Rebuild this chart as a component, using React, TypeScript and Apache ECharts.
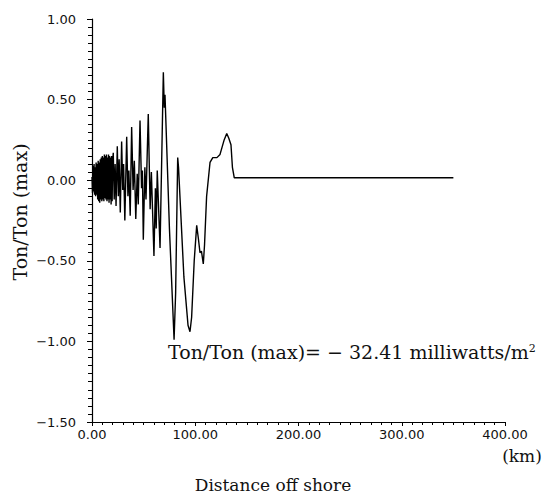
import React, { useEffect, useRef } from "react";
import * as echarts from "echarts";

// Distance off shore (km) and normalised Ton/Ton(max)
const distanceKm: number[] = [
  0, 0.5, 1, 1.5, 2, 2.5, 3, 3.5, 4, 4.5, 5, 5.5, 6, 6.5, 7, 7.5, 8, 8.5, 9, 9.5,
  10, 10.5, 11, 11.5, 12, 12.5, 13, 13.5, 14, 14.5, 15, 15.5, 16, 16.5, 17, 17.5, 18, 18.5, 19, 19.5,
  20, 20.6, 21.5, 22.4, 23.3, 24.5, 25.5, 26.3, 27.4, 28.7, 29.8, 30.6, 31.8, 33.6, 34.8, 35.7, 37,
  38.4, 39.8, 41, 42.4, 43.8, 44.8, 46.5, 48, 48.8, 49.7, 51.2, 52.3, 54.5, 56.3, 57.5, 60, 61.4, 62.2, 63.2,
  65.9, 69.1, 70.0, 70.7, 75, 79.5, 81, 83.0, 83.8, 89, 93, 94.9, 96.5, 99, 101.4, 103, 104.6, 106,
  107.8, 109, 111, 114.3, 117, 121, 124, 128, 130.5, 132.5, 134.6, 136, 137.8, 200, 300, 350,
];

const tonRatio: number[] = [
  0.02, -0.08, 0.09, -0.07, 0.1, -0.09, 0.08, -0.1, 0.11, -0.09, 0.1, -0.12, 0.12, -0.13, 0.11, -0.14, 0.13, -0.12, 0.14, -0.13,
  0.15, -0.12, 0.14, -0.13, 0.16, -0.11, 0.15, -0.12, 0.16, -0.13, 0.14, -0.12, 0.16, -0.14, 0.15, -0.12, 0.14, -0.15, 0.15, -0.13,
  0.12, 0.17, -0.12, 0.1, -0.16, 0.21, -0.1, 0.13, -0.2, 0.24, -0.06, 0.1, -0.25, 0.27, -0.1, 0.06, -0.22,
  0.33, -0.06, 0.12, -0.24, 0.04, -0.15, 0.37, -0.05, 0.06, -0.37, 0.08, -0.12, 0.41, -0.18, 0.05, -0.47, -0.05, -0.3, 0.06,
  -0.42, 0.67, 0.45, 0.53, -0.3, -0.99, -0.7, 0.14, 0.08, -0.6, -0.9, -0.94, -0.85, -0.5, -0.28, -0.36, -0.45, -0.44,
  -0.52, -0.4, -0.1, 0.11, 0.14, 0.14, 0.16, 0.25, 0.29, 0.26, 0.22, 0.08, 0.015, 0.015, 0.015, 0.015,
];

const xTicks: number[] = [0, 100, 200, 300, 400];
const yTicks: number[] = [-1.5, -1.0, -0.5, 0.0, 0.5, 1.0];

const xAxisName = "Distance off shore";
const xUnit = "(km)";
const yAxisName = "Ton/Ton (max)";
const noteText = "Ton/Ton (max)= − 32.41 milliwatts/m";
const noteSup = "2";

export default function App() {
  const ref = useRef<HTMLDivElement>(null);
  useEffect(() => {
    if (!ref.current) return;
    const chart = echarts.init(ref.current, undefined, { renderer: "svg" });
    const data = distanceKm.map((x, i) => [x, tonRatio[i]]);
    const fmt = (v: number) => {
      const s = Math.abs(v).toFixed(2);
      return v < 0 ? "−" + s : s;
    };
    const serif = "DejaVu Serif";
    chart.setOption({
      animation: false,
      backgroundColor: "#ffffff",
      grid: { left: 92, right: 42, top: 19, bottom: 72, containLabel: false },
      xAxis: {
        type: "value",
        min: xTicks[0],
        max: xTicks[xTicks.length - 1],
        interval: 100,
        axisLine: { show: true, onZero: false, lineStyle: { color: "#000", width: 1.2 } },
        axisTick: { show: true, length: 4, lineStyle: { color: "#000" } },
        minorTick: { show: true, splitNumber: 10, length: 3, lineStyle: { color: "#000" } },
        splitLine: { show: false },
        axisLabel: {
          color: "#111",
          fontFamily: "DejaVu Sans",
          fontSize: 13,
          margin: 6,
          formatter: (v: number) => fmt(v),
        },
      },
      yAxis: {
        type: "value",
        min: yTicks[0],
        max: yTicks[yTicks.length - 1],
        interval: 0.5,
        axisLine: { show: true, onZero: false, lineStyle: { color: "#000", width: 1.2 } },
        axisTick: { show: true, length: 5, lineStyle: { color: "#000" } },
        minorTick: { show: true, splitNumber: 10, length: 4, lineStyle: { color: "#000" } },
        splitLine: { show: false },
        axisLabel: {
          color: "#111",
          fontFamily: "DejaVu Sans",
          fontSize: 13,
          margin: 16,
          formatter: (v: number) => fmt(v),
        },
      },
      series: [
        {
          type: "line",
          data,
          showSymbol: false,
          symbol: "none",
          lineStyle: { color: "#000", width: 1.4 },
        },
      ],
      graphic: [
        {
          type: "text",
          x: 20,
          y: 212,
          rotation: Math.PI / 2,
          style: {
            text: yAxisName,
            font: `19px "${serif}"`,
            fill: "#111",
            textAlign: "center",
            textVerticalAlign: "middle",
          },
        },
        {
          type: "text",
          x: 273,
          y: 485,
          style: {
            text: xAxisName,
            font: `17px "${serif}"`,
            fill: "#111",
            textAlign: "center",
            textVerticalAlign: "middle",
          },
        },
        {
          type: "text",
          x: 522,
          y: 456,
          style: {
            text: xUnit,
            font: `17px "${serif}"`,
            fill: "#111",
            textAlign: "center",
            textVerticalAlign: "middle",
          },
        },
        {
          type: "text",
          x: 168,
          y: 352,
          style: {
            text: noteText + "{sup|" + noteSup + "}",
            font: `19px "${serif}"`,
            fill: "#111",
            textAlign: "left",
            textVerticalAlign: "middle",
            rich: {
              sup: {
                fontFamily: serif,
                fontSize: 11,
                verticalAlign: "top",
                padding: [0, 0, 8, 0],
                fill: "#111",
              },
            },
          },
        },
      ],
    });
    return () => chart.dispose();
  }, []);
  return (
    <div
      ref={ref}
      style={{ position: "fixed", left: 0, top: 0, width: 547, height: 494 }}
    />
  );
}
